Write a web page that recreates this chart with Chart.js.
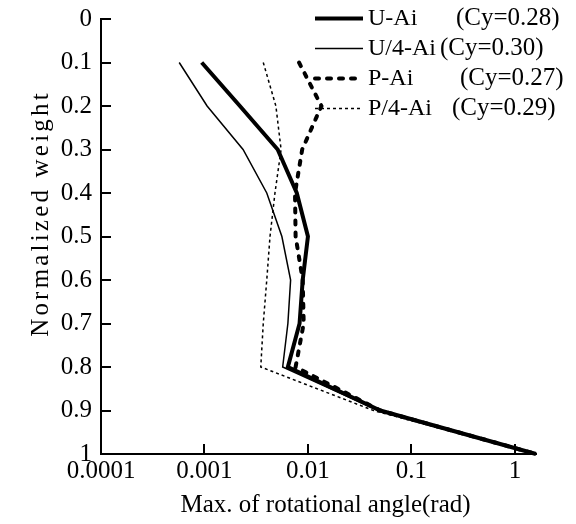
<!DOCTYPE html>
<html><head><meta charset="utf-8">
<script src="https://cdn.jsdelivr.net/npm/chart.js@4.4.1/dist/chart.umd.min.js"></script>
<style>html,body{margin:0;padding:0;background:#fff}canvas{display:block}</style>
</head><body>
<canvas id="c" width="576" height="524"></canvas>
<script>
// ---- data ----
const levels = [0.1, 0.2, 0.3, 0.4, 0.5, 0.6, 0.7, 0.8, 0.9, 1.0];
const uAi   = [0.00094, 0.0022, 0.0051, 0.0078, 0.0100, 0.0089, 0.0083, 0.0064, 0.050, 1.6];
const u4Ai  = [0.00057, 0.00106, 0.00236, 0.0040, 0.0056, 0.0068, 0.0064, 0.0057, 0.048, 1.6];
const pAi   = [0.0082, 0.0135, 0.0088, 0.0075, 0.0076, 0.0089, 0.0091, 0.0076, 0.050, 1.6];
const p4Ai  = [0.0037, 0.0049, 0.0055, 0.0048, 0.0043, 0.0040, 0.0037, 0.0035, 0.043, 1.6];
const seriesNames = ['U-Ai', 'U/4-Ai', 'P-Ai', 'P/4-Ai'];
const cyLabels = ['(Cy=0.28)', '(Cy=0.30)', '(Cy=0.27)', '(Cy=0.29)'];
const xTickValues = [0.0001, 0.001, 0.01, 0.1, 1];
const xTickLabels = ['0.0001', '0.001', '0.01', '0.1', '1'];
const yTickLabels = ['0', '0.1', '0.2', '0.3', '0.4', '0.5', '0.6', '0.7', '0.8', '0.9', '1'];
const xTitle = 'Max. of rotational angle(rad)';
const yTitle = 'Normalized weight';

const FONT = '"Liberation Serif", "Times New Roman", serif';
Chart.defaults.font.family = FONT;
Chart.defaults.font.size = 25;
Chart.defaults.color = '#000';

const toPts = arr => levels.map((y, i) => ({x: arr[i], y}));

const styles = [
  {borderWidth: 4, borderDash: [], borderCapStyle: 'butt'},
  {borderWidth: 1.5, borderDash: [], borderCapStyle: 'butt'},
  {borderWidth: 4, borderDash: [4, 8], borderCapStyle: 'round'},
  {borderWidth: 1.5, borderDash: [3, 3], borderCapStyle: 'butt'}
];
const seriesData = [uAi, u4Ai, pAi, p4Ai];

const datasets = seriesData.map((arr, i) => Object.assign({
  label: seriesNames[i] + ' ' + cyLabels[i],
  data: toPts(arr),
  borderColor: '#000',
  backgroundColor: '#000',
  pointRadius: 0,
  tension: 0,
  fill: false,
  clip: false,
  borderJoinStyle: 'miter'
}, styles[i]));

const legendX = [456, 440, 460, 452];
const legendPlugin = {
  id: 'customLegend',
  afterDraw(chart) {
    const ctx = chart.ctx;
    chart.data.datasets.forEach((ds, i) => {
      const y = 18.5 + i * 30;
      ctx.save();
      ctx.strokeStyle = ds.borderColor;
      ctx.lineWidth = ds.borderWidth;
      ctx.setLineDash(ds.borderDash || []);
      ctx.lineCap = ds.borderCapStyle || 'butt';
      ctx.beginPath();
      ctx.moveTo(315, y);
      ctx.lineTo(363, y);
      ctx.stroke();
      ctx.setLineDash([]);
      ctx.font = '24px ' + FONT;
      ctx.fillStyle = '#000';
      ctx.textBaseline = 'middle';
      ctx.textAlign = 'left';
      ctx.fillText(seriesNames[i], 368, y);
      ctx.font = '25px ' + FONT;
      ctx.fillText(cyLabels[i], legendX[i], y);
      ctx.restore();
    });
  }
};

const titleTweak = {
  id: 'titleTweak',
  beforeDraw(chart) {
    const sy = chart.scales.y, sx = chart.scales.x;
    if (sy && !sy._tw) {
      const orig = sy.drawTitle;
      sy.drawTitle = function () {
        const c = this.ctx; c.save();
        c.letterSpacing = '3.2px';
        c.translate(0, -23);
        orig.call(this);
        c.restore();
      };
      sy._tw = true;
    }
    if (sx && !sx._tw) {
      const orig = sx.drawTitle;
      sx.drawTitle = function () {
        const c = this.ctx; c.save();
        c.translate(7, 0);
        orig.call(this);
        c.restore();
      };
      sx._tw = true;
    }
  }
};

new Chart(document.getElementById('c'), {
  type: 'line',
  data: {datasets},
  plugins: [legendPlugin, titleTweak],
  options: {
    responsive: false,
    animation: false,
    devicePixelRatio: 1,
    layout: {padding: {left: 0, right: 40, top: 19, bottom: 0}},
    plugins: {legend: {display: false}, tooltip: {enabled: false}},
    scales: {
      x: {
        type: 'logarithmic',
        min: 0.0001,
        max: 1.6,
        afterBuildTicks: s => { s.ticks = xTickValues.map(v => ({value: v, major: true})); },
        afterFit: s => { s.height = 70; s.paddingLeft = 0; s.paddingRight = 0; },
        ticks: {
          autoSkip: false, maxRotation: 0, minRotation: 0, padding: 12,
          callback: (v, i) => xTickLabels[i]
        },
        grid: {drawOnChartArea: false, tickLength: -10, color: '#000', lineWidth: 2},
        border: {display: true, color: '#000', width: 2},
        title: {display: true, text: xTitle, padding: {top: 0, bottom: 4}, font: {size: 25}}
      },
      y: {
        type: 'linear',
        reverse: true,
        min: 0,
        max: 1,
        afterFit: s => { s.width = 101; s.paddingTop = 0; s.paddingBottom = 0; },
        ticks: {
          stepSize: 0.1, autoSkip: false, padding: 19,
          callback: v => yTickLabels[Math.round(v * 10)]
        },
        grid: {drawOnChartArea: false, tickLength: -10, color: '#000', lineWidth: 2},
        border: {display: true, color: '#000', width: 2},
        title: {display: true, text: yTitle, padding: {top: 26, bottom: 0}, font: {size: 25}}
      }
    }
  }
});
</script>
</body></html>
